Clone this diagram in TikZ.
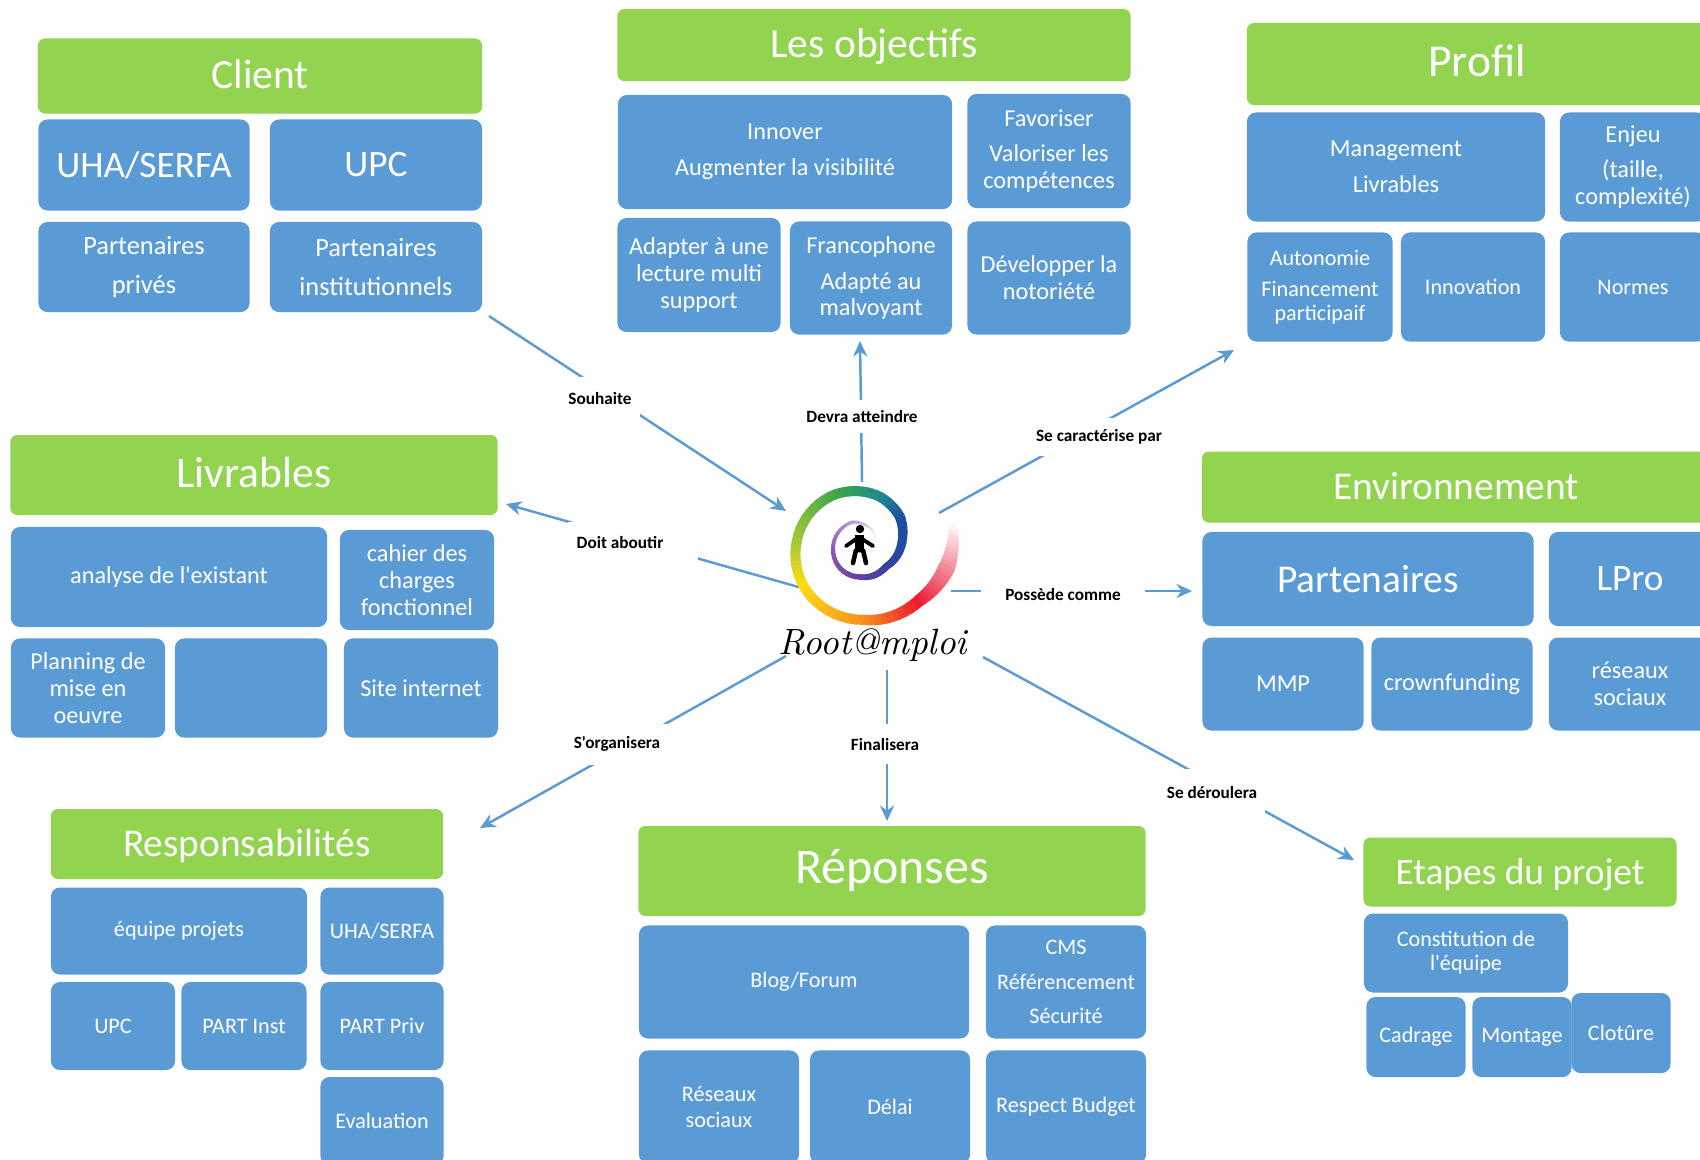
\documentclass[tikz,border=0pt]{standalone}
\usepackage{fontspec}
\usepackage{xcolor}
\newfontfamily\cellfont{Carlito}
\usetikzlibrary{arrows.meta,positioning}
\definecolor{titlegreen}{HTML}{92D350}
\definecolor{cellblue}{HTML}{5B9BD5}
\definecolor{spPink}{HTML}{F48A9C}
\definecolor{spRed}{HTML}{ED1C2E}
\definecolor{spOrange}{HTML}{F7941D}
\definecolor{spYellow}{HTML}{FFDD15}
\definecolor{spLime}{HTML}{A4C639}
\definecolor{spGreen}{HTML}{3FA648}
\definecolor{spTeal}{HTML}{1B8A8F}
\definecolor{spBlue}{HTML}{1F4E9E}
\definecolor{spIndigo}{HTML}{3B3F9F}
\definecolor{spPurple}{HTML}{6A3FA0}
\definecolor{spViolet}{HTML}{8E5AB5}
\definecolor{spLilac}{HTML}{BBA0D5}
\tikzset{
  titlebox/.style={fill=titlegreen, rounded corners=0.7mm, text=white, inner sep=0pt,
    text height=0.98em, text depth=0.27em, font=\cellfont\fontsize{11.8}{14}\selectfont},
  cellbox/.style={fill=cellblue, rounded corners=0.9mm, text=white, inner sep=0pt, align=center,
    font=\cellfont\fontsize{6.9}{7.6}\selectfont},
  smallcell/.style={cellbox, font=\cellfont\fontsize{6.3}{7.5}\selectfont},
  bigcell/.style={cellbox, font=\cellfont\fontsize{10.6}{13}\selectfont},
  link/.style={draw=cellblue, line width=0.7pt, -{Stealth[length=4.4pt,width=4pt]}},
  linklabel/.style={fill=white, inner sep=0pt, text=black, font=\cellfont\bfseries\fontsize{4.9}{5.5}\selectfont}
}
\begin{document}
\begin{tikzpicture}[x=0.01cm,y=-0.01cm]
    \useasboundingbox (0,0) rectangle (1700,1159);
    \clip (0,0) rectangle (1700,1159);

    % Client
    \node[titlebox, minimum width=4.44cm, minimum height=0.75cm] (client) at (260,76) {Client};
    \node[bigcell, minimum width=2.11cm, minimum height=0.91cm] (uha) at (144,165) {UHA/SERFA};
    \node[bigcell, minimum width=2.12cm, minimum height=0.91cm] (upc) at (376,165) {UPC};
    \node[cellbox, minimum width=2.11cm, minimum height=0.90cm, font=\cellfont\fontsize{7.5}{8}\selectfont] (prives) at (144,267) {Partenaires\\[3pt]privés};
    \node[cellbox, minimum width=2.12cm, minimum height=0.90cm, font=\cellfont\fontsize{7.5}{8}\selectfont] (instit) at (376,267) {Partenaires\\[3pt]institutionnels};

    % Les objectifs
    \node[titlebox, minimum width=5.13cm, minimum height=0.72cm] (objectifs) at (874,45) {Les objectifs};
    \node[cellbox, minimum width=3.34cm, minimum height=1.14cm] (innover) at (785,152) {Innover\\[2.6pt]Augmenter la visibilité};
    \node[cellbox, minimum width=1.63cm, minimum height=1.14cm] (favoriser) at (1049,151) {Favoriser\\[2.6pt]Valoriser les\\compétences};
    \node[cellbox, minimum width=1.63cm, minimum height=1.14cm] (adapter) at (699,275) {Adapter à une\\lecture multi\\support};
    \node[cellbox, minimum width=1.62cm, minimum height=1.13cm] (franco) at (871,278) {Francophone\\[2.6pt]Adapté au\\malvoyant};
    \node[cellbox, minimum width=1.63cm, minimum height=1.13cm] (notoriete) at (1049,278) {Développer la\\notoriété};

    % Profil
    \node[titlebox, minimum width=4.60cm, minimum height=0.82cm, font=\cellfont\fontsize{13}{15}\selectfont] (profil) at (1477,64) {Profil};
    \node[cellbox, minimum width=2.98cm, minimum height=1.09cm] (manage) at (1396,167) {Management\\[2.6pt]Livrables};
    \node[cellbox, minimum width=1.46cm, minimum height=1.09cm] (enjeu) at (1633,167) {Enjeu\\[2.6pt](taille,\\complexité)};
    \node[smallcell, minimum width=1.45cm, minimum height=1.09cm, font=\cellfont\fontsize{6.3}{6.8}\selectfont] (autonomie) at (1320,287) {Autonomie\\[2.2pt]Financement\\participaif};
    \node[smallcell, minimum width=1.44cm, minimum height=1.09cm] (innovation) at (1473,287) {Innovation};
    \node[smallcell, minimum width=1.46cm, minimum height=1.09cm] (normes) at (1633,287) {Normes};

    % Livrables
    \node[titlebox, minimum width=4.87cm, minimum height=0.80cm, font=\cellfont\fontsize{12.4}{15}\selectfont] (livrables) at (254,475) {Livrables};
    \node[cellbox, minimum width=3.16cm, minimum height=1.00cm] (analyse) at (169,577) {analyse de l'existant};
    \node[cellbox, minimum width=1.54cm, minimum height=1.00cm] (cahier) at (417,580) {cahier des\\charges\\fonctionnel};
    \node[cellbox, minimum width=1.54cm, minimum height=0.99cm] (planning) at (88,688) {Planning de\\mise en\\oeuvre};
    \node[cellbox, minimum width=1.52cm, minimum height=0.99cm] (vide) at (251,688) {};
    \node[cellbox, minimum width=1.54cm, minimum height=0.99cm] (site) at (421,688) {Site internet};

    % Environnement
    \node[titlebox, minimum width=5.08cm, minimum height=0.71cm, font=\cellfont\fontsize{11.2}{14}\selectfont] (environ) at (1456,487) {Environnement};
    \node[bigcell, minimum width=3.31cm, minimum height=0.94cm, font=\cellfont\fontsize{11.2}{14}\selectfont] (partenaires) at (1368,579) {Partenaires};
    \node[bigcell, minimum width=1.62cm, minimum height=0.94cm] (lpro) at (1630,579) {LPro};
    \node[cellbox, minimum width=1.61cm, minimum height=0.93cm] (mmp) at (1283,684) {MMP};
    \node[cellbox, minimum width=1.61cm, minimum height=0.93cm] (crown) at (1452,684) {crownfunding};
    \node[cellbox, minimum width=1.62cm, minimum height=0.93cm] (reseaux) at (1630,684) {réseaux\\sociaux};

    % Responsabilites
    \node[titlebox, minimum width=3.92cm, minimum height=0.70cm, font=\cellfont\fontsize{11.2}{14}\selectfont] (respons) at (247,844) {Responsabilités};
    \node[smallcell, minimum width=2.56cm, minimum height=0.87cm] (equipe) at (179,931) {équipe projets};
    \node[smallcell, minimum width=1.23cm, minimum height=0.87cm] (uhab) at (382,931) {UHA/SERFA};
    \node[smallcell, minimum width=1.24cm, minimum height=0.88cm] (upcb) at (113,1026) {UPC};
    \node[smallcell, minimum width=1.25cm, minimum height=0.88cm] (partinst) at (244,1026) {PART Inst};
    \node[smallcell, minimum width=1.23cm, minimum height=0.88cm] (partpriv) at (382,1026) {PART Priv};
    \node[smallcell, minimum width=1.23cm, minimum height=0.88cm] (evaluation) at (382,1121) {Evaluation};

    % Reponses
    \node[titlebox, minimum width=5.07cm, minimum height=0.90cm, font=\cellfont\fontsize{14.2}{17}\selectfont] (reponses) at (892,871) {Réponses};
    \node[smallcell, minimum width=3.30cm, minimum height=1.13cm] (blog) at (804,982) {Blog/Forum};
    \node[smallcell, minimum width=1.60cm, minimum height=1.13cm] (cms) at (1066,982) {CMS\\[2.4pt]Référencement\\[2.4pt]Sécurité};
    \node[smallcell, minimum width=1.60cm, minimum height=1.13cm] (resoc) at (719,1107) {Réseaux\\sociaux};
    \node[smallcell, minimum width=1.60cm, minimum height=1.13cm] (delai) at (890,1107) {Délai};
    \node[smallcell, minimum width=1.60cm, minimum height=1.13cm] (budget) at (1066,1107) {Respect Budget};

    % Etapes du projet
    \node[titlebox, minimum width=3.13cm, minimum height=0.69cm, font=\cellfont\fontsize{10.65}{13}\selectfont] (etapes) at (1520,872) {Etapes du projet};
    \node[smallcell, minimum width=2.04cm, minimum height=0.79cm, font=\cellfont\fontsize{6.3}{6.8}\selectfont] (constit) at (1466,953) {Constitution de\\l'équipe};
    \node[smallcell, minimum width=0.99cm, minimum height=0.80cm] (cadrage) at (1416,1037) {Cadrage};
    \node[smallcell, minimum width=0.99cm, minimum height=0.80cm] (montage) at (1522,1037) {Montage};
    \node[smallcell, minimum width=0.99cm, minimum height=0.80cm] (cloture) at (1621,1033) {Clotûre};

    % connectors
    \coordinate (souhaiteA) at (489,316);
    \coordinate (souhaiteB) at (786,511);
    \coordinate (devraA) at (862,482);
    \coordinate (devraB) at (860,341);
    \coordinate (caractA) at (939,513);
    \coordinate (caractB) at (1234,350);
    \coordinate (doitA) at (802,588);
    \coordinate (doitB) at (506,504);
    \coordinate (possedeA) at (951,591);
    \coordinate (possedeB) at (1192,591);
    \coordinate (organiseA) at (786,656);
    \coordinate (organiseB) at (480,828);
    \coordinate (finaliseA) at (887,670);
    \coordinate (finaliseB) at (887,821);
    \coordinate (derouleA) at (983,657);
    \coordinate (derouleB) at (1354,860);

    \draw[link] (souhaiteA) -- (souhaiteB);
    \draw[link] (devraA) -- (devraB);
    \draw[link] (caractA) -- (caractB);
    \draw[link] (doitA) -- (doitB);
    \draw[link] (possedeA) -- (possedeB);
    \draw[link] (organiseA) -- (organiseB);
    \draw[link] (finaliseA) -- (finaliseB);
    \draw[link] (derouleA) -- (derouleB);

    \node[linklabel, minimum width=0.80cm, minimum height=0.42cm] (souhaite) at (600,398) {Souhaite};
    \node[linklabel, minimum width=1.20cm, minimum height=0.33cm] (devra) at (862,416) {Devra atteindre};
    \node[linklabel, minimum width=1.30cm, minimum height=0.38cm] (caract) at (1099,437) {Se caractérise par};
    \node[linklabel, minimum width=1.30cm, minimum height=0.40cm] (doit) at (633,542) {Doit aboutir\kern0.26cm};
    \node[linklabel, minimum width=1.64cm, minimum height=0.20cm] (possede) at (1063,594) {Possède comme};
    \node[linklabel, minimum width=1.00cm, minimum height=0.41cm] (organise) at (617,744) {S'organisera};
    \node[linklabel, minimum width=0.80cm, minimum height=0.40cm] (finalise) at (885,744) {Finalisera};
    \node[linklabel, minimum width=1.06cm, minimum height=0.46cm] (deroule) at (1212,792) {Se déroulera};

    % logo: spiral, cut in short pieces between key values
    \begin{scope}[shift={(860,550)},y=0.01cm]
      \foreach \aA/\rA/\wA/\cA/\aB/\rB/\wB/\cB in {
          18/97/8/white/-10/89/17/spPink,
          -10/89/17/spPink/-40/78/12/spRed,
          -40/78/12/spRed/-87/70/10/spOrange,
          -87/70/10/spOrange/-147/67/10/spYellow,
          -147/67/10/spYellow/-186/64/10/spLime,
          -186/64/10/spLime/-245/61/10/spGreen,
          -245/61/10/spGreen/-290/57/10/spTeal,
          -290/57/10/spTeal/-320/52/10/spBlue,
          -320/52/10/spBlue/-345/44/9/spBlue,
          -345/44/9/spBlue/-392/31/7/spIndigo,
          -392/31/7/spIndigo/-450/27/5.5/spPurple,
          -450/27/5.5/spPurple/-540/27/4/spViolet,
          -540/27/4/spViolet/-615/29/3/spLilac,
          -615/29/3/spLilac/-681/21/1/white}{
        \foreach \k in {0,...,9}{
          \pgfmathsetmacro{\aS}{\aA+(\aB-\aA)*\k/10}
          \pgfmathsetmacro{\aE}{\aA+(\aB-\aA)*(\k+1.3)/10}
          \pgfmathsetmacro{\rS}{\rA+(\rB-\rA)*\k/10}
          \pgfmathsetmacro{\rE}{\rA+(\rB-\rA)*(\k+1.3)/10}
          \pgfmathsetmacro{\wS}{\wA+(\wB-\wA)*\k/10}
          \pgfmathsetmacro{\pct}{\k*10}
          \draw[draw={\cB!\pct!\cA}, line width=\wS*0.1mm] (\aS:\rS) -- (\aE:\rE);
        }
      }
    \end{scope}
    \fill (860,529) circle (4.2);
    \draw[line width=1.1pt, line cap=round, line join=round] (846,546) -- (859,537) -- (873,546);
    \draw[line width=2.4pt] (859.5,535) -- (859.5,552);
    \draw[line width=1.3pt, line cap=round, line join=round] (853,563) -- (856,550) -- (863,550) -- (866,563);
    \node[anchor=base, inner sep=0pt, font=\itshape\fontsize{10.4}{12}\selectfont] (logotext) at (873,654) {Root@mploi};
\end{tikzpicture}
\end{document}
